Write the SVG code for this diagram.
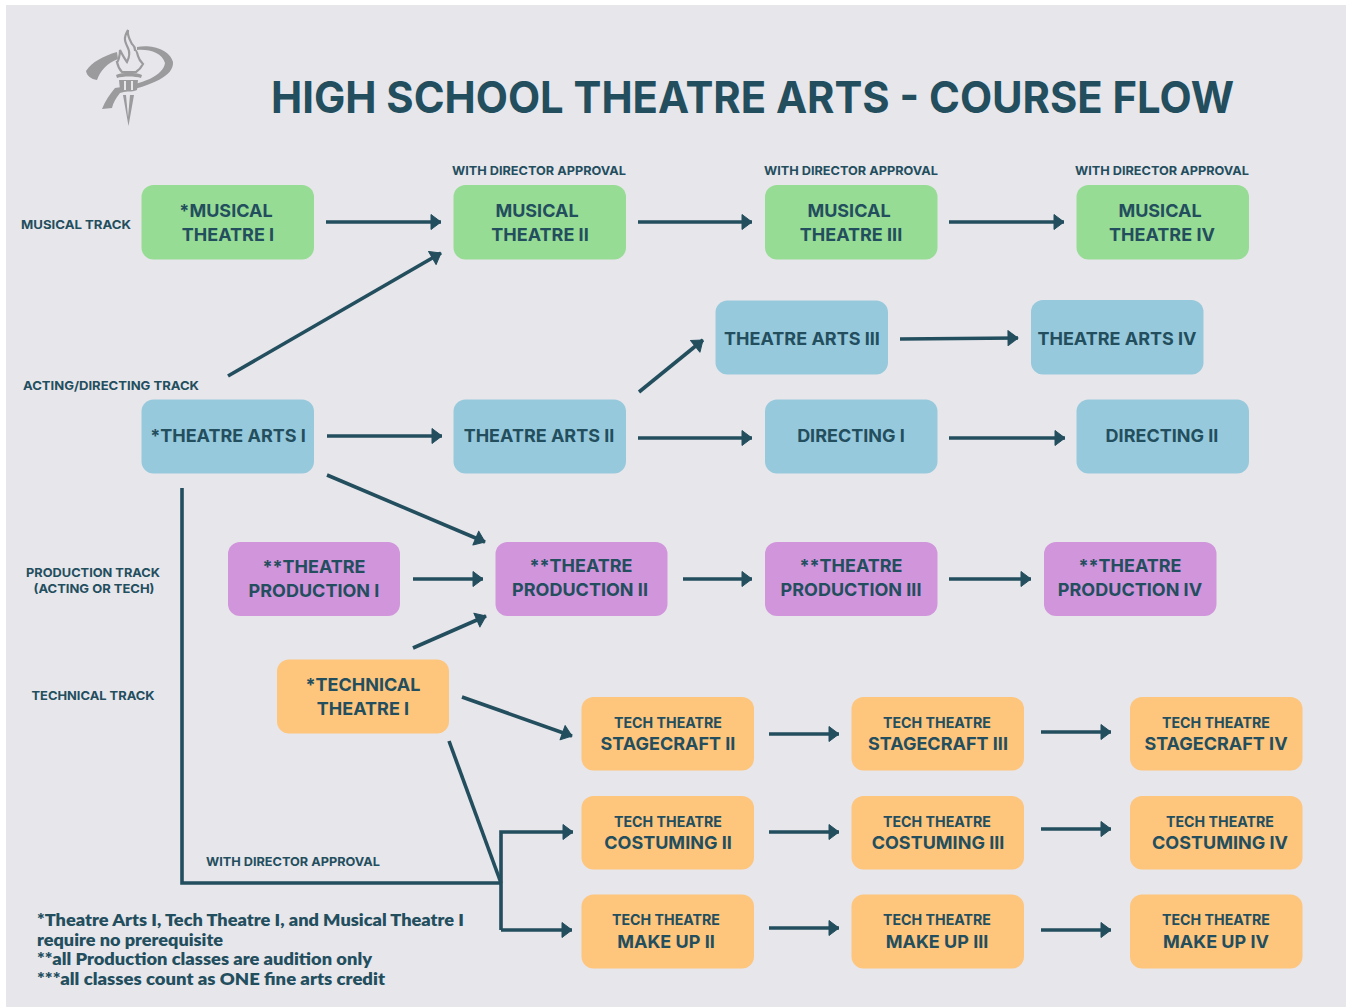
<svg xmlns="http://www.w3.org/2000/svg" width="1347" height="1007" viewBox="0 0 1347 1007">
<style>
text{font-family:"Inter","Liberation Sans",sans-serif;font-weight:700;fill:#234e5e;text-anchor:middle}
.n{font-size:18px}
.s{font-size:14.2px}
.t{font-size:12.2px}
.f{font-family:"Lato","Liberation Sans",sans-serif;font-weight:800;font-size:17px;text-anchor:start}
.h{font-size:44px;font-weight:700;text-anchor:start}
.g rect{fill:#97dc94}.b rect{fill:#97c9dc}.p rect{fill:#d195dc}.o rect{fill:#fec57d}
#connectors path{fill:none;stroke:#234e5e;stroke-width:3.6;marker-end:url(#a)}
#connectors path.x{marker-end:none}
</style>
<defs><marker id="a" markerUnits="userSpaceOnUse" markerWidth="16" markerHeight="20" refX="11" refY="9" orient="auto"><path d="M1 1.5L11 9L1 16.5Z" fill="#234e5e" stroke="#234e5e" stroke-width="1" stroke-linejoin="round"/></marker></defs>
<rect width="1347" height="1007" fill="#fff"/>
<rect x="6" y="5" width="1340" height="1002" fill="#e7e6eb"/>
<g id="logo" fill="#9b9b9e">
<path d="M117 52C103 56 92 62 86 71C87 76 91 79 97 80C100 71 107 63 118 59Z"/>
<path d="M137 47C150 44 170 49 173 62C174 76 153 85 120 93C116 98 113 103 112 108L102 109C105 101 110 94 115 88C143 84 163 76 165 63C162 53 150 49 137 50Z"/>
<path d="M128 30C123 38 125 42 128 48C130 52 129 58 127 62C124 58 121 52 120 50C120 56 118 62 117 62C118 67 120 70 122 72H136C139 70 141 68 143 64C141 62 139 60 138 56C137 52 136 50 135 50C135 46 133 45 132 44C130 40 127 36 128 30Z" fill="none" stroke="#9b9b9e" stroke-width="2.2"/>
<path d="M116 75C122 72 136 72 142 75L141 78C135 76 123 76 117 78Z"/>
<path d="M119 80H138L137 90C132 92 125 92 120 90Z"/>
<path d="M123 95L126 95L128 117L130 95L134 95L128.500 126Z"/>
</g>
<g fill="#e7e6eb"><rect x="124" y="81" width="2" height="9"/><rect x="131" y="81" width="2" height="9"/></g>
<text id="title" class="h" x="271" y="113" textLength="963" lengthAdjust="spacingAndGlyphs">HIGH SCHOOL THEATRE ARTS - COURSE FLOW</text>
<g id="labels">
<text class="t" x="76" y="229" textLength="110" lengthAdjust="spacingAndGlyphs">MUSICAL TRACK</text>
<text class="t" x="111" y="390" textLength="176" lengthAdjust="spacingAndGlyphs">ACTING/DIRECTING TRACK</text>
<text class="t" x="93" y="577" textLength="134" lengthAdjust="spacingAndGlyphs">PRODUCTION TRACK</text>
<text class="t" x="94" y="593" textLength="121" lengthAdjust="spacingAndGlyphs">(ACTING OR TECH)</text>
<text class="t" x="93" y="700" textLength="123" lengthAdjust="spacingAndGlyphs">TECHNICAL TRACK</text>
<text class="t" x="539" y="175" textLength="174" lengthAdjust="spacingAndGlyphs">WITH DIRECTOR APPROVAL</text>
<text class="t" x="851" y="175" textLength="174" lengthAdjust="spacingAndGlyphs">WITH DIRECTOR APPROVAL</text>
<text class="t" x="1162" y="175" textLength="174" lengthAdjust="spacingAndGlyphs">WITH DIRECTOR APPROVAL</text>
<text class="t" x="293" y="866" textLength="174" lengthAdjust="spacingAndGlyphs">WITH DIRECTOR APPROVAL</text>
</g>
<g id="connectors">
<path d="M326 222H441"/><path d="M638 222H752"/><path d="M949 222H1064"/>
<path d="M228 376L441 253"/>
<path d="M900 339L1018 338"/><path d="M639 392L703 340"/>
<path d="M327 436H442"/><path d="M638 438H752"/><path d="M949 438H1065"/>
<path d="M327 475L485 542"/><path d="M413 579H483"/><path d="M413 648L486 616"/><path d="M683 579H752"/><path d="M949 579H1031"/>
<path d="M462 697L572 736"/>
<path d="M769 734H839"/><path d="M1041 732H1111"/>
<path d="M769 832H839"/><path d="M1041 829H1111"/>
<path d="M769 928H839"/><path d="M1041 930H1111"/>
<path class="x" d="M182 488V883H501"/>
<path class="x" d="M449 741L501 883"/>
<path d="M501 930V832H573"/>
<path d="M501 930H572"/>
</g>
<g id="n1" class="g"><rect x="141.500" y="185" width="172.500" height="74.500" rx="12"/><text class="n" x="226" y="217">*MUSICAL</text><text class="n" x="228" y="241">THEATRE I</text></g>
<g id="n2" class="g"><rect x="453.500" y="185" width="172.500" height="74.500" rx="12"/><text class="n" x="537" y="217">MUSICAL</text><text class="n" x="540" y="241">THEATRE II</text></g>
<g id="n3" class="g"><rect x="765" y="185" width="172.500" height="74.500" rx="12"/><text class="n" x="849" y="217">MUSICAL</text><text class="n" x="851" y="241">THEATRE III</text></g>
<g id="n4" class="g"><rect x="1076.500" y="185" width="172.500" height="74.500" rx="12"/><text class="n" x="1160" y="217">MUSICAL</text><text class="n" x="1162" y="241">THEATRE IV</text></g>
<g id="n5" class="b"><rect x="715.500" y="300.500" width="172.500" height="74" rx="12"/><text class="n" x="802" y="345">THEATRE ARTS III</text></g>
<g id="n6" class="b"><rect x="1031" y="300" width="172.500" height="74.500" rx="12"/><text class="n" x="1117" y="345">THEATRE ARTS IV</text></g>
<g id="n7" class="b"><rect x="141.500" y="399.500" width="172.500" height="74" rx="12"/><text class="n" x="228" y="442">*THEATRE ARTS I</text></g>
<g id="n8" class="b"><rect x="453.500" y="399.500" width="172.500" height="74" rx="12"/><text class="n" x="539" y="442">THEATRE ARTS II</text></g>
<g id="n9" class="b"><rect x="765" y="399.500" width="172.500" height="74" rx="12"/><text class="n" x="851" y="442">DIRECTING I</text></g>
<g id="n10" class="b"><rect x="1076.500" y="399.500" width="172.500" height="74" rx="12"/><text class="n" x="1162" y="442">DIRECTING II</text></g>
<g id="n11" class="p"><rect x="228" y="542" width="172" height="74" rx="12"/><text class="n" x="314" y="573">**THEATRE</text><text class="n" x="314" y="597">PRODUCTION I</text></g>
<g id="n12" class="p"><rect x="495.500" y="542" width="172" height="74" rx="12"/><text class="n" x="581" y="572">**THEATRE</text><text class="n" x="580" y="596">PRODUCTION II</text></g>
<g id="n13" class="p"><rect x="765" y="542" width="172.500" height="74" rx="12"/><text class="n" x="851" y="572">**THEATRE</text><text class="n" x="851" y="596">PRODUCTION III</text></g>
<g id="n14" class="p"><rect x="1044" y="542" width="172.500" height="74" rx="12"/><text class="n" x="1130" y="572">**THEATRE</text><text class="n" x="1130" y="596">PRODUCTION IV</text></g>
<g id="n15" class="o"><rect x="277" y="659.500" width="172" height="74" rx="12"/><text class="n" x="363" y="691">*TECHNICAL</text><text class="n" x="363" y="715">THEATRE I</text></g>
<g id="n16" class="o"><rect x="581.500" y="697" width="172.500" height="73.500" rx="12"/><text class="s" x="668" y="728">TECH THEATRE</text><text class="n" x="668" y="750">STAGECRAFT II</text></g>
<g id="n17" class="o"><rect x="851.500" y="697" width="172.500" height="73.500" rx="12"/><text class="s" x="937" y="728">TECH THEATRE</text><text class="n" x="938" y="750">STAGECRAFT III</text></g>
<g id="n18" class="o"><rect x="1130" y="697" width="172.500" height="73.500" rx="12"/><text class="s" x="1216" y="728">TECH THEATRE</text><text class="n" x="1216" y="750">STAGECRAFT IV</text></g>
<g id="n19" class="o"><rect x="581.500" y="796" width="172.500" height="73.500" rx="12"/><text class="s" x="668" y="827">TECH THEATRE</text><text class="n" x="668" y="849">COSTUMING II</text></g>
<g id="n20" class="o"><rect x="851.500" y="796" width="172.500" height="73.500" rx="12"/><text class="s" x="937" y="827">TECH THEATRE</text><text class="n" x="938" y="849">COSTUMING III</text></g>
<g id="n21" class="o"><rect x="1130" y="796" width="172.500" height="73.500" rx="12"/><text class="s" x="1220" y="827">TECH THEATRE</text><text class="n" x="1220" y="849">COSTUMING IV</text></g>
<g id="n22" class="o"><rect x="581.500" y="894.500" width="172.500" height="74" rx="12"/><text class="s" x="666" y="925">TECH THEATRE</text><text class="n" x="666" y="948">MAKE UP II</text></g>
<g id="n23" class="o"><rect x="851.500" y="894.500" width="172.500" height="74" rx="12"/><text class="s" x="937" y="925">TECH THEATRE</text><text class="n" x="937" y="948">MAKE UP III</text></g>
<g id="n24" class="o"><rect x="1130" y="894.500" width="172.500" height="74" rx="12"/><text class="s" x="1216" y="925">TECH THEATRE</text><text class="n" x="1216" y="948">MAKE UP IV</text></g>
<g id="notes">
<text class="f" x="37" y="926" textLength="427" lengthAdjust="spacingAndGlyphs">*Theatre Arts I, Tech Theatre I, and Musical Theatre I</text>
<text class="f" x="37" y="946" textLength="186" lengthAdjust="spacingAndGlyphs">require no prerequisite</text>
<text class="f" x="37" y="965" textLength="335" lengthAdjust="spacingAndGlyphs">**all Production classes are audition only</text>
<text class="f" x="37" y="985" textLength="348" lengthAdjust="spacingAndGlyphs">***all classes count as ONE fine arts credit</text>
</g>
</svg>
